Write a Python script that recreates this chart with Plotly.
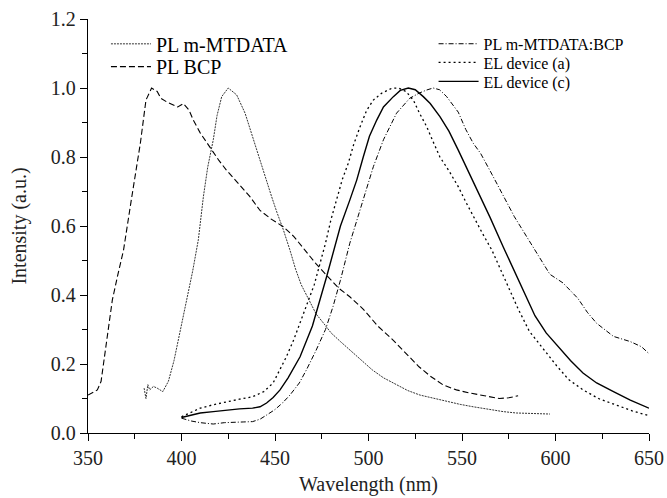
import plotly.graph_objects as go

# ---- data ----
wl_bcp = [350, 353, 355, 357, 360, 363, 366, 369, 373, 378, 381, 384, 387, 389, 392, 395.6, 398, 401, 404,
          406.3, 410, 415, 420, 424, 430, 436.6, 442, 448, 454.4, 460, 466, 472, 478, 484, 490, 497, 505,
          513, 520, 527, 533, 540, 547, 554, 562, 570, 575, 580]
pl_bcp = [0.11, 0.12, 0.125, 0.15, 0.27, 0.385, 0.46, 0.53, 0.67, 0.84, 0.965, 1.0, 0.99, 0.97, 0.96, 0.95,
          0.945, 0.955, 0.936, 0.907, 0.87, 0.83, 0.79, 0.762, 0.725, 0.685, 0.645, 0.62, 0.598, 0.57, 0.53,
          0.49, 0.455, 0.42, 0.395, 0.36, 0.31, 0.27, 0.231, 0.192, 0.165, 0.139, 0.125, 0.116, 0.108, 0.10,
          0.102, 0.108]

wl_mt = [380, 381, 382, 383, 385, 387, 390, 393, 396, 398, 401, 404, 406, 409, 411.7, 414, 417, 419, 421.5,
         425, 429.5, 434, 438.4, 443.8, 448.2, 451, 454.4, 458, 461, 464, 468, 472, 476, 480, 485, 490, 494,
         502, 508, 515, 521, 527.5, 535, 542, 549, 556, 564, 572, 579, 586, 592, 597]
pl_mt = [0.13, 0.10, 0.14, 0.125, 0.135, 0.13, 0.12, 0.15, 0.21, 0.26, 0.337, 0.41, 0.47, 0.56, 0.685, 0.77,
         0.85, 0.92, 0.975, 1.0, 0.98, 0.927, 0.85, 0.762, 0.685, 0.64, 0.59, 0.53, 0.475, 0.43, 0.386,
         0.345, 0.318, 0.29, 0.265, 0.24, 0.221, 0.183, 0.16, 0.139, 0.123, 0.11, 0.10, 0.091, 0.083, 0.076,
         0.068, 0.062, 0.058, 0.057, 0.057, 0.055]

wl_mix = [400, 405, 410, 417, 423, 428, 433, 438, 442, 445.5, 450, 454, 458, 463, 467, 472, 477, 481, 485,
          490, 494, 498, 502.6, 508, 515, 522, 527, 531, 534.6, 538, 541.8, 548, 552, 556, 560, 566, 572,
          578, 584.6, 590, 597, 604, 612, 617, 622, 631, 640, 646, 650]
pl_mix = [0.043, 0.035, 0.03, 0.026, 0.03, 0.03, 0.032, 0.033, 0.04, 0.052, 0.068, 0.087, 0.11, 0.145, 0.185,
          0.24, 0.30, 0.366, 0.443, 0.55, 0.62, 0.685, 0.772, 0.85, 0.927, 0.97, 0.985, 0.994, 1.0, 0.995,
          0.975, 0.93, 0.88, 0.84, 0.81, 0.75, 0.69, 0.627, 0.569, 0.52, 0.46, 0.435, 0.39, 0.35, 0.318,
          0.28, 0.265, 0.25, 0.23]

wl_ela = [400, 405, 410, 417, 424, 431, 438, 444, 449, 456, 460, 464, 467, 471, 474, 477, 480, 483.9, 486,
          489.2, 492, 495.5, 499, 502.6, 507, 512.4, 516, 520, 524, 527, 531.1, 534.5, 538.2, 543, 548, 552,
          556, 561, 566, 570, 574, 580, 586, 594, 600.6, 607, 614.7, 623, 632.7, 641, 650]
el_a = [0.047, 0.06, 0.072, 0.082, 0.091, 0.098, 0.105, 0.12, 0.145, 0.22, 0.27, 0.33, 0.37, 0.43, 0.49,
        0.55, 0.62, 0.695, 0.735, 0.782, 0.835, 0.888, 0.935, 0.965, 0.985, 0.999, 1.0, 0.99, 0.965, 0.93,
        0.888, 0.845, 0.80, 0.76, 0.714, 0.67, 0.627, 0.578, 0.53, 0.48, 0.43, 0.36, 0.295, 0.24, 0.195,
        0.155, 0.125, 0.10, 0.081, 0.064, 0.05]

wl_elc = [400, 405, 410, 417, 424, 431, 438, 442, 445.5, 449, 452.7, 457, 463.4, 470, 477.6, 481, 485, 490,
          493.7, 497.2, 500.5, 504.4, 508, 513.3, 517, 521.3, 525, 529.3, 533, 538.2, 543, 548, 556, 565,
          572, 580, 589, 595, 601.5, 608, 614.7, 622, 631, 640, 650]
el_c = [0.045, 0.052, 0.058, 0.062, 0.067, 0.07, 0.072, 0.076, 0.087, 0.103, 0.125, 0.16, 0.221, 0.31,
        0.453, 0.52, 0.6, 0.675, 0.733, 0.80, 0.86, 0.907, 0.945, 0.975, 0.993, 1.0, 0.995, 0.975, 0.955,
        0.917, 0.875, 0.82, 0.73, 0.625, 0.54, 0.445, 0.34, 0.29, 0.25, 0.21, 0.174, 0.145, 0.12, 0.095,
        0.072]

FONT = "Liberation Serif"
fig = go.Figure()

fig.add_trace(go.Scatter(x=wl_mt, y=pl_mt, mode="lines", name="PL m-MTDATA", legend="legend",
                         line=dict(color="#333", width=1.0, dash="2px,1px")))
fig.add_trace(go.Scatter(x=wl_bcp, y=pl_bcp, mode="lines", name="PL BCP", legend="legend2",
                         line=dict(color="black", width=1.1, dash="6px,3px")))
fig.add_trace(go.Scatter(x=wl_mix, y=pl_mix, mode="lines", name="PL m-MTDATA:BCP", legend="legend3",
                         line=dict(color="black", width=1.0, dash="5px,2px,1px,2px")))
fig.add_trace(go.Scatter(x=wl_ela, y=el_a, mode="lines", name="EL device (a)", legend="legend4",
                         line=dict(color="black", width=1.3, dash="2px,3px")))
fig.add_trace(go.Scatter(x=wl_elc, y=el_c, mode="lines", name="EL device (c)", legend="legend5",
                         line=dict(color="black", width=1.4)))

def leg(x, y, size):
    return dict(x=x, y=y, xanchor="left", yanchor="middle", bgcolor="rgba(0,0,0,0)",
                borderwidth=0, font=dict(family=FONT, size=size, color="black"),
                itemwidth=40, tracegroupgap=0)

ax_common = dict(showline=True, linecolor="black", linewidth=1.3, showgrid=False, zeroline=False,
                 automargin=False, tickcolor="black",
                 tickfont=dict(family=FONT, size=20, color="#222"))

fig.update_layout(
    width=667, height=498,
    margin=dict(l=88, r=18, t=19, b=65, autoexpand=False),
    paper_bgcolor="white", plot_bgcolor="white",
    font=dict(family=FONT, color="black"),
    showlegend=True,
    legend=leg(0.032, 0.940, 20),
    legend2=leg(0.032, 0.885, 20),
    legend3=leg(0.616, 0.940, 16),
    legend4=leg(0.616, 0.895, 16),
    legend5=leg(0.616, 0.849, 16),
    xaxis=dict(range=[350, 650], dtick=50, tick0=350, ticks="outside", ticklen=7, tickwidth=1.2,
               minor=dict(dtick=25, ticks="outside", ticklen=5, tickcolor="black"),
               title=dict(text="Wavelength (nm)", font=dict(family=FONT, size=20, color="#222"), standoff=8),
               **ax_common),
    yaxis=dict(range=[0, 1.2], dtick=0.2, tick0=0, tickformat=".1f", ticks="outside", ticklen=7,
               tickwidth=1.2, minor=dict(dtick=0.1, ticks="outside", ticklen=5, tickcolor="black"),
               title=dict(text="Intensity (a.u.)", font=dict(family=FONT, size=20, color="#222"), standoff=18),
               **ax_common),
    xaxis2=dict(range=[350, 650], overlaying="x", side="top", anchor="y", dtick=25, tick0=350,
                ticks="inside", ticklen=4, showticklabels=False, showline=True, linecolor="black",
                linewidth=1.3, showgrid=False, zeroline=False, tickcolor="black", automargin=False),
    yaxis2=dict(range=[0, 1.2], overlaying="y", side="right", anchor="x", dtick=0.1, tick0=0,
                ticks="inside", ticklen=4, showticklabels=False, showline=True, linecolor="black",
                linewidth=1.3, showgrid=False, zeroline=False, tickcolor="black", automargin=False),
)

fig.write_html("out.html", config={"displayModeBar": False},
               post_script="document.body.style.margin='0';")
